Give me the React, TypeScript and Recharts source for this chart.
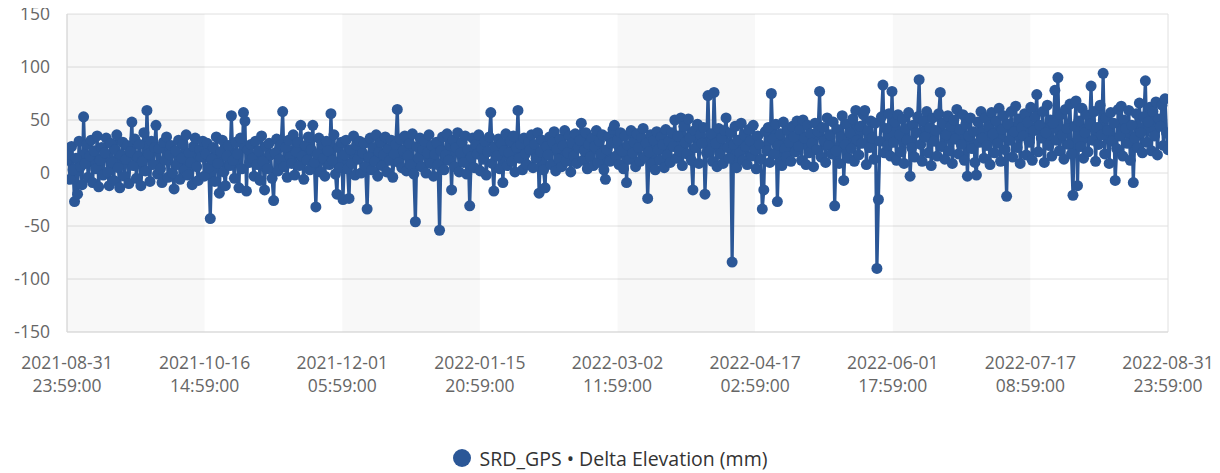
import React from 'react';
import {
  LineChart,
  Line,
  XAxis,
  YAxis,
  CartesianGrid,
  ReferenceArea,
} from 'recharts';

// Tick labels (two lines each)
const tickDates = [
  '2021-08-31', '2021-10-16', '2021-12-01', '2022-01-15', '2022-03-02',
  '2022-04-17', '2022-06-01', '2022-07-17', '2022-08-31',
];
const tickTimes = [
  '23:59:00', '14:59:00', '05:59:00', '20:59:00', '11:59:00',
  '02:59:00', '17:59:00', '08:59:00', '23:59:00',
];
const yTicks = [-150, -100, -50, 0, 50, 100, 150];

// Delta Elevation (mm) readings, every 12 hours, one array per month
const aug2021 = [12];
const sep2021 = [18, -6, 25, 3, -27, 14, -20, 30, 6, -11, 53, 9, 27, -4, 16, 31, -9, 21, 4, 35, -13, 12, 24, -2, 19, 33, 1, -12, 28, 10, -7, 22, 36, 5, -14, 17, 29, -3, 13, 26, -10, 20, 48, 7, 32, -5, 15, 27, -12, 11, 38, 2, 59, 18, -8, 30, 8, 24, 45, -1];
const oct2021 = [23, 4, -9, 29, 12, 34, -4, 17, 26, 0, -15, 21, 8, 31, -6, 14, 27, 3, 36, -2, 19, 10, -11, 25, 33, 6, -7, 22, 15, 30, -3, 18, 28, 5, -43, 13, 24, -8, 34, 9, -19, 20, 31, 1, -12, 16, 26, 7, 54, 12, -5, 29, 18, -14, 33, 4, 57, 49, -17, 22, 10, 27];
const nov2021 = [14, -3, 30, 8, 21, -7, 35, 11, -16, 25, 4, 28, 17, -5, -26, 19, 32, 2, 13, 27, 58, 6, 24, -4, 31, 15, 9, 36, -2, 20, 29, 7, 45, 16, -6, 26, 12, 34, 3, 22, 45, 10, -32, 18, 33, 1, 27, 14, -3, 30, 21, 8, 56, 12, 36, -1, -20, 24, 5, 29];
const dec2021 = [-25, 17, 31, 4, -24, 22, 9, 35, -2, 26, 13, 30, 0, 19, 28, 6, -34, 15, 33, 3, 24, 11, 36, -3, 20, 29, 7, 17, 34, 1, 23, 12, 31, -4, 18, 27, 60, 10, 32, 5, 21, 35, 2, 16, 28, 8, 37, -1, -46, 25, 14, 33, 6, 22, 30, 0, 19, 36, 9, 26, -3, 18];
const jan2022 = [29, 8, -54, 21, 34, 3, 17, 37, 12, 26, -16, 31, 6, 24, 38, 1, 19, 29, 10, 35, -1, 22, -31, 15, 33, 5, 27, 18, 36, 2, 23, 13, 30, -2, 20, 34, 57, 9, -17, 25, 16, 32, 4, 28, -9, 21, 37, 7, 19, 30, 11, 35, 1, 24, 59, 14, 27, 3, 33, 18, 8, 29];
const feb2022 = [22, 36, 5, 27, 14, 38, -19, 20, 31, 3, -14, 25, 17, 34, 8, 29, 39, 2, 23, 13, 32, 6, 26, 40, 11, 19, 35, 1, 28, 16, 37, 9, 24, 31, 47, 12, 21, 38, 4, 27, 15, 33, 7, 25, 40, 10, 30, 18, 36, 3, -6, 22, 34, 11, 28, 41];
const mar2022 = [45, 16, 31, 8, 38, 21, 4, 35, -9, 26, 13, 40, 19, 29, 6, 37, 24, 11, 33, 42, 15, 28, -24, 20, 36, 9, 31, 3, 39, 22, 12, 34, 27, 5, 41, 17, 30, 10, 38, 25, 50, 14, 35, 21, 52, 7, 44, 29, 18, 51, 33, 12, -16, 40, 24, 46, 9, 36, 28, 43, -20, 19];
const apr2022 = [73, 20, 37, 11, 76, 28, 6, 42, 18, 33, 9, 40, 52, 24, 14, 38, -84, 27, 44, 5, 31, 19, 47, 12, 36, 25, 8, 41, 30, 16, 45, 22, 4, 35, 27, 13, -34, -16, 39, 21, 43, 10, 75, 32, 18, 46, -27, 26, 37, 7, 48, 23, 15, 40, 29, 11, 44, 34, 20, 49];
const may2022 = [25, 41, 12, 50, 33, 8, 45, 19, 37, 28, 6, 47, 22, 39, 77, 15, 43, 30, 10, 52, 26, 36, 18, 48, -31, 21, 41, 9, 34, 54, -7, 27, 46, 14, 38, 23, 51, 11, 59, 31, 17, 44, 28, 55, 59, 8, 40, 24, 49, 33, 13, 47, -90, -25, 30, 53, 83, 19, 42, 26, 56, 16];
const jun2022 = [77, 29, 48, 12, 55, 36, 20, 51, 9, 42, 31, 57, -3, 24, 45, 15, 38, 53, 88, 27, 11, 49, 34, 58, 19, 43, 7, 52, 30, 40, 16, 56, 76, 25, 47, 13, 36, 54, 21, 44, 9, 50, 32, 60, 18, 41, 27, 55, 12, 46, -3, 35, 52, 23, 39, 10, -2, 48, 29, 58];
const jul2022 = [33, 14, 52, 26, 44, 8, 57, 37, 19, 49, 28, 61, 11, 41, 54, 22, -22, 46, 31, 58, 15, 39, 63, 24, 51, 9, 43, 35, 56, 17, 48, 29, 62, 12, 40, 53, 74, 20, 45, 33, 58, 10, 38, 64, 26, 50, 16, 47, 78, 31, 90, 21, 55, 36, 13, 60, 42, 27, 65, 18, -21, 44];
const aug2022 = [68, -12, 49, 25, 61, 14, 38, 55, 20, 46, 82, 31, 58, 11, 43, 27, 64, 36, 94, 18, 52, 40, 9, 57, 30, 47, -7, 23, 60, 35, 63, 16, 50, 42, 28, 59, 12, 45, -9, 33, 56, 24, 66, 38, 19, 53, 87, 29, 48, 62, 21, 58, 35, 67, 17, 51, 44, 64, 26, 70, 38, 22];

const SERIES_NAME = 'SRD_GPS \u2022 Delta Elevation (mm)';
const BLUE = '#2b5797';
const FONT = '"Open Sans", "Segoe UI", sans-serif';

const STEP = 12 * 3600 * 1000;
const tickValues = tickDates.map((d, i) => Date.parse(`${d}T${tickTimes[i]}Z`));
const START = tickValues[0];

const values = [
  ...aug2021, ...sep2021, ...oct2021, ...nov2021, ...dec2021, ...jan2022,
  ...feb2022, ...mar2022, ...apr2022, ...may2022, ...jun2022, ...jul2022, ...aug2022,
];
const data = values.map((v, i) => ({ t: START + i * STEP, v }));

const XTick = (props: any) => {
  const { x, y, payload } = props;
  const idx = tickValues.indexOf(payload.value);
  if (idx < 0) return null;
  return (
    <g transform={`translate(${x},${y})`}>
      <text textAnchor="middle" fill="#666" fontSize={17.5} fontFamily={FONT}>
        <tspan x={0} dy={29}>{tickDates[idx]}</tspan>
        <tspan x={0} dy={23}>{tickTimes[idx]}</tspan>
      </text>
    </g>
  );
};

export default function App() {
  return (
    <div style={{ position: 'relative', width: 1212, height: 473, marginTop: -8, background: '#fff' }}>
      <LineChart
        width={1212}
        height={473}
        data={data}
        margin={{ top: 14, right: 52, left: 0, bottom: 81 }}
      >
        <CartesianGrid
          stroke="#e0e0e0"
          vertical={true}
          verticalCoordinatesGenerator={(p: any) =>
            p && p.offset ? [p.offset.left, p.offset.left + p.offset.width] : []
          }
        />
        {[0, 2, 4, 6].map((k) => (
          <ReferenceArea
            key={k}
            x1={tickValues[k]}
            x2={tickValues[k + 1]}
            fill="#000"
            fillOpacity={0.028}
            stroke="none"
            ifOverflow="hidden"
          />
        ))}
        <XAxis
          type="number"
          dataKey="t"
          domain={[tickValues[0], tickValues[tickValues.length - 1]]}
          ticks={tickValues}
          interval={0}
          tickLine={false}
          axisLine={{ stroke: '#d9d9d9' }}
          tick={<XTick />}
          height={60}
          allowDataOverflow
        />
        <YAxis
          type="number"
          domain={[-150, 150]}
          ticks={yTicks}
          interval={0}
          width={59}
          tickLine={false}
          axisLine={{ stroke: '#d9d9d9' }}
          tickMargin={11}
          tick={{ fill: '#666', fontSize: 17.5, fontFamily: FONT }}
        />
        <Line
          type="linear"
          dataKey="v"
          name={SERIES_NAME}
          stroke={BLUE}
          strokeWidth={3.2}
          dot={{ r: 5.5, fill: BLUE, stroke: BLUE, strokeWidth: 0 }}
          activeDot={false}
          isAnimationActive={false}
        />
      </LineChart>
      <div
        style={{
          position: 'absolute',
          top: 448,
          left: 0,
          width: 1204,
          height: 20,
          display: 'flex',
          justifyContent: 'center',
          alignItems: 'center',
          fontFamily: FONT,
          fontSize: 19.5,
          color: '#333',
        }}
      >
        <span
          style={{
            display: 'inline-block',
            width: 18,
            height: 18,
            borderRadius: '50%',
            background: BLUE,
            marginRight: 9,
          }}
        />
        <span>{SERIES_NAME}</span>
      </div>
    </div>
  );
}
